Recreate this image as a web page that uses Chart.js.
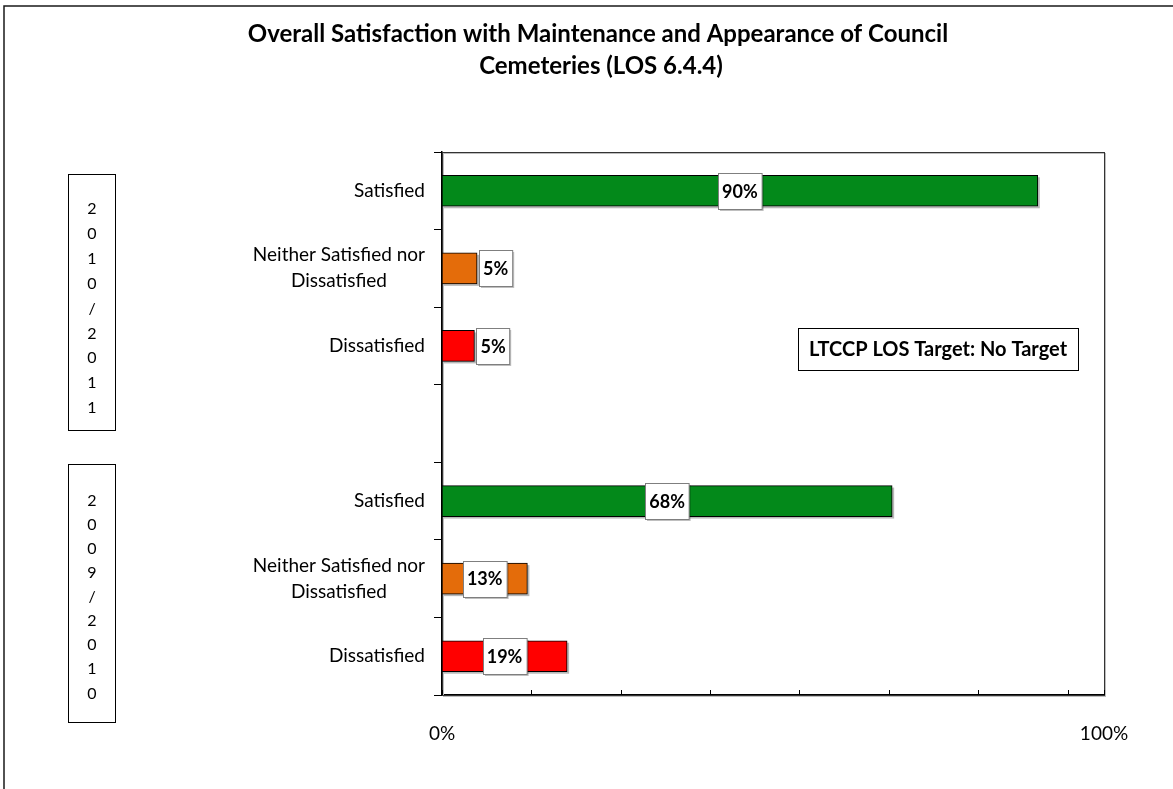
<!DOCTYPE html>
<html>
<head>
<meta charset="utf-8">
<script src="https://cdn.jsdelivr.net/npm/chart.js@4.4.1/dist/chart.umd.min.js"></script>
<style>
  html, body { margin: 0; padding: 0; background: #fff; }
  #wrap { width: 1173px; height: 789px; }
</style>
</head>
<body>
<div id="wrap"><canvas id="myChart" width="1173" height="789"></canvas></div>
<script>
const titleLines = ['Overall Satisfaction with Maintenance and Appearance of Council', 'Cemeteries (LOS 6.4.4)'];
const periods = ['2010/2011', '2009/2010'];
const responses = ['Satisfied', ['Neither Satisfied nor', 'Dissatisfied'], 'Dissatisfied'];
const values2011 = [90, 5.3, 4.9];
const values2010 = [68, 12.9, 18.9];
const responseColors = ['#03891A', '#E46C0A', '#FF0000'];
const xTickValues = [0, 13.5, 27, 40.5, 54, 67.5, 81, 94.5, 100];
const targetText = 'LTCCP LOS Target: No Target';

const FONT = 'Lato, "Liberation Sans", sans-serif';

// top group, blank gap, bottom group
const labels = [...responses, '', ...responses];
const values = [...values2011, null, ...values2010];
const colors = [...responseColors, 'transparent', ...responseColors];

const framePlugin = {
    id: 'frame',
    beforeDatasetsDraw(chart) {
        const { ctx, chartArea } = chart;
        ctx.save();
        // plot area box
        ctx.strokeStyle = '#bdbdbd';
        ctx.lineWidth = 1;
        ctx.strokeRect(chartArea.left + 1.5, chartArea.top + 1.5, chartArea.right - chartArea.left, chartArea.bottom - chartArea.top);
        ctx.strokeStyle = '#333';
        ctx.strokeRect(chartArea.left + 0.5, chartArea.top + 0.5, chartArea.right - chartArea.left, chartArea.bottom - chartArea.top);

        // bar shadows
        const meta = chart.getDatasetMeta(0);
        ctx.fillStyle = 'rgba(0,0,0,0.28)';
        meta.data.forEach((bar, i) => {
            if (values[i] == null) return;
            const p = bar.getProps(['x', 'y', 'base', 'height'], true);
            ctx.fillRect(p.base + 2, p.y - p.height / 2 + 2, p.x - p.base, p.height);
        });

        // inward tick marks on x axis
        const xs = chart.scales.x;
        ctx.strokeStyle = '#000';
        ctx.lineWidth = 1;
        xTickValues.forEach(v => {
            const px = Math.round(xs.getPixelForValue(v)) + 0.5;
            ctx.beginPath();
            ctx.moveTo(px, chartArea.bottom);
            ctx.lineTo(px, chartArea.bottom - 5);
            ctx.stroke();
        });
        ctx.restore();
    },
    afterDatasetsDraw(chart) {
        const { ctx } = chart;
        const meta = chart.getDatasetMeta(0);
        ctx.save();
        ctx.font = 'bold 18px ' + FONT;
        ctx.textAlign = 'center';
        ctx.textBaseline = 'middle';
        meta.data.forEach((bar, i) => {
            if (values[i] == null) return;
            const p = bar.getProps(['x', 'y', 'base'], true);
            const text = Math.round(values[i]) + '%';
            const w = ctx.measureText(text).width + 8;
            const h = 36;
            let cx = (p.x + p.base) / 2;
            if (p.x - p.base < w + 10) cx = p.x + 2 + w / 2;
            const left = Math.round(cx - w / 2) + 0.5;
            const top = Math.round(p.y - h / 2) + 0.5;
            ctx.fillStyle = 'rgba(0,0,0,0.25)';
            ctx.fillRect(left + 1.5, top + 1.5, w, h);
            ctx.fillStyle = '#fff';
            ctx.fillRect(left, top, w, h);
            ctx.strokeStyle = '#7f7f7f';
            ctx.lineWidth = 1;
            ctx.strokeRect(left, top, w, h);
            ctx.fillStyle = '#000';
            ctx.fillText(text, cx, p.y + 1);
        });
        ctx.restore();
    },
    afterDraw(chart) {
        const { ctx, chartArea } = chart;
        const ys = chart.scales.y;
        ctx.save();

        // outer chart border (left and top only visible)
        ctx.strokeStyle = '#1a1a1a';
        ctx.lineWidth = 1.5;
        ctx.beginPath();
        ctx.moveTo(4, 789);
        ctx.lineTo(4, 6);
        ctx.lineTo(1173, 6);
        ctx.stroke();

        // title
        ctx.fillStyle = '#000';
        ctx.textAlign = 'center';
        ctx.textBaseline = 'middle';
        ctx.font = 'bold 24px ' + FONT;
        ctx.fillText(titleLines[0], 598, 34);
        ctx.fillText(titleLines[1], 601, 66);

        // category labels, right-aligned block, lines centred within it
        ctx.font = '19px ' + FONT;
        labels.forEach((lab, i) => {
            if (!lab) return;
            const lines = Array.isArray(lab) ? lab : [lab];
            const blockW = Math.max(...lines.map(l => ctx.measureText(l).width));
            const right = chartArea.left - 17;
            const cx = right - blockW / 2;
            const y = ys.getPixelForTick(i);
            const lh = 26;
            lines.forEach((l, j) => {
                ctx.fillText(l, cx, y + (j - (lines.length - 1) / 2) * lh);
            });
        });

        // period boxes with stacked characters
        const boxes = [
            { text: periods[0], top: 174, bottom: 430, mid: 308.5, step: 24.9 },
            { text: periods[1], top: 464, bottom: 722, mid: 597, step: 24.1 }
        ];
        ctx.font = '16px ' + FONT;
        boxes.forEach(b => {
            ctx.strokeStyle = '#000';
            ctx.lineWidth = 1;
            ctx.strokeRect(68.5, b.top + 0.5, 47, b.bottom - b.top);
            const chars = b.text.split('');
            chars.forEach((c, k) => {
                ctx.fillText(c, 92, b.mid + (k - (chars.length - 1) / 2) * b.step);
            });
        });

        // target box
        ctx.font = 'bold 20px ' + FONT;
        ctx.strokeStyle = '#000';
        ctx.strokeRect(798.5, 328.5, 280, 42);
        ctx.fillText(targetText, 938, 350);
        ctx.restore();
    }
};

new Chart(document.getElementById('myChart'), {
    type: 'bar',
    data: {
        labels: labels,
        datasets: [{
            data: values,
            backgroundColor: colors,
            borderColor: '#000',
            borderWidth: 1,
            borderSkipped: false,
            barThickness: 31
        }]
    },
    options: {
        indexAxis: 'y',
        responsive: false,
        animation: false,
        layout: { padding: { left: 0, right: 69, top: 152, bottom: 0 } },
        plugins: {
            legend: { display: false },
            tooltip: { enabled: false },
            title: { display: false }
        },
        scales: {
            x: {
                type: 'linear',
                min: 0,
                max: 100,
                afterBuildTicks: scale => { scale.ticks = xTickValues.map(v => ({ value: v })); },
                afterFit: scale => { scale.height = 94; },
                grid: { display: false, drawTicks: false },
                border: { display: true, color: '#000', width: 1.5 },
                ticks: {
                    autoSkip: false,
                    maxRotation: 0,
                    padding: 27,
                    color: '#000',
                    font: { family: FONT, size: 19 },
                    callback: v => v === 0 ? '0%' : (v === 100 ? '100%' : '')
                }
            },
            y: {
                type: 'category',
                offset: true,
                afterFit: scale => { scale.width = 442; },
                grid: { drawOnChartArea: false, drawTicks: true, tickLength: 8, color: '#000', offset: true },
                border: { display: true, color: '#000', width: 1.5 },
                ticks: { display: false }
            }
        }
    },
    plugins: [framePlugin]
});
</script>
</body>
</html>
